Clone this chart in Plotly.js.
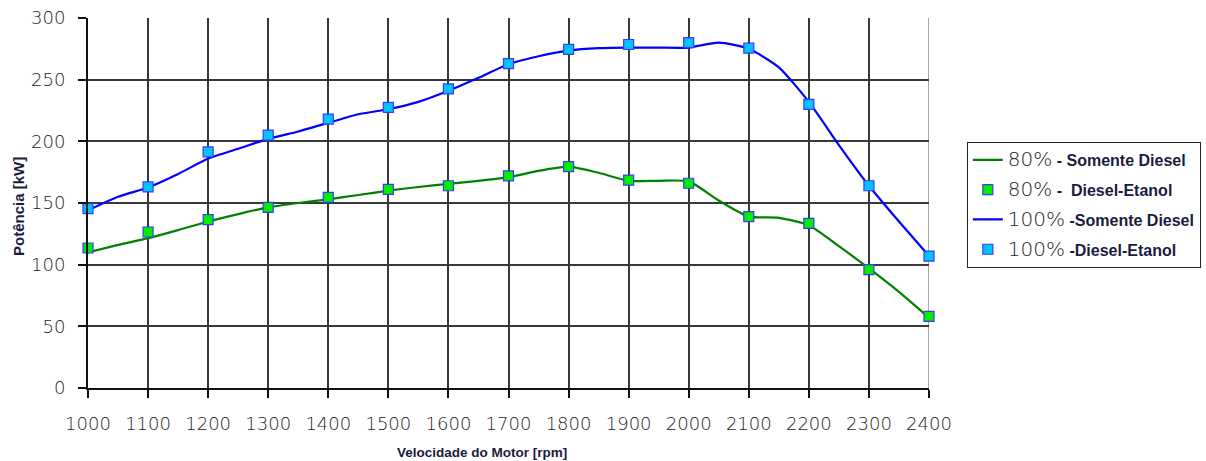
<!DOCTYPE html>
<html>
<head>
<meta charset="utf-8">
<script src="https://cdn.plot.ly/plotly-3.0.1.min.js"></script>
<style>
  html, body { margin: 0; padding: 0; background: #ffffff; }
  #chart { width: 1206px; height: 461px; }
</style>
</head>
<body>
<div id="chart"></div>
<script>
// Engine speed for the measured points (Diesel-Etanol)
const rpmPoints = [1000, 1100, 1200, 1300, 1400, 1500, 1600, 1700, 1800, 1900, 2000, 2100, 2200, 2300, 2400];
// Engine speed for the diesel-only curves
const rpmCurve = [1000, 1050, 1100, 1150, 1200, 1250, 1300, 1350, 1400, 1450, 1500, 1550, 1600, 1650, 1700,
                  1750, 1800, 1850, 1900, 1950, 2000, 2050, 2100, 2150, 2200, 2250, 2300, 2350, 2400];

// Power [kW], 80% load
const diesel80 = [110, 116, 121.5, 128, 135, 141, 146.5, 150, 153, 156.5, 160, 163, 165.5, 168, 171,
                  176, 179.5, 174.5, 168, 168, 167.5, 152, 139, 138, 132, 115, 97, 78, 57];
const etanol80 = [113.5, 126.5, 136.5, 146.5, 154.5, 161, 164, 172, 179.5, 168.5, 166, 139, 133.5, 96, 58];

// Power [kW], 100% load
const diesel100 = [144, 155, 162.5, 173.5, 186, 194, 202, 208, 215, 222, 226, 232, 241, 251.5, 262.5,
                   269, 273.5, 275.5, 276, 276, 276, 280, 275, 260, 232, 197, 164, 135, 107];
const etanol100 = [145.5, 163, 191.5, 205, 218, 227.5, 242.5, 263, 274.5, 278.5, 280, 275.5, 230, 164, 107];

const seriesNames = [
  '80% - Somente Diesel',
  '80% -  Diesel-Etanol',
  '100% -Somente Diesel',
  '100% -Diesel-Etanol'
];

// legend label: thin large percentage followed by bold description
function legendLabel(name) {
  const pct = name.slice(0, name.indexOf('%') + 1);
  const rest = name.slice(pct.length).replace(/ /g, '\u00a0');
  return '<span style="font-family:\'DejaVu Sans\';font-size:20px;font-weight:300;color:#222222">' + pct + '</span>' +
         '<span style="font-size:16px;font-weight:bold;color:#1b1b40">' + rest + '</span>';
}

const markerLine = { color: '#3a3aff', width: 1.2 };

const traces = [
  {
    x: rpmCurve, y: diesel80, name: legendLabel(seriesNames[0]), legendgroup: 'a',
    type: 'scatter', mode: 'lines', cliponaxis: false,
    line: { color: '#008000', width: 2.2, shape: 'spline', smoothing: 0.6 }
  },
  {
    x: rpmPoints, y: etanol80, name: legendLabel(seriesNames[1]), legendgroup: 'b',
    type: 'scatter', mode: 'markers', cliponaxis: false,
    marker: { symbol: 'square', size: 10, color: '#00ee00', line: markerLine }
  },
  {
    x: rpmCurve, y: diesel100, name: legendLabel(seriesNames[2]), legendgroup: 'c',
    type: 'scatter', mode: 'lines', cliponaxis: false,
    line: { color: '#0000ff', width: 2.2, shape: 'spline', smoothing: 0.6 }
  },
  {
    x: rpmPoints, y: etanol100, name: legendLabel(seriesNames[3]), legendgroup: 'd',
    type: 'scatter', mode: 'markers', cliponaxis: false,
    marker: { symbol: 'square', size: 10, color: '#00c4ff', line: markerLine }
  }
];

const tickFont = { family: 'DejaVu Sans', size: 18, color: '#222222', weight: 300 };

const layout = {
  width: 1206,
  height: 461,
  margin: { l: 88, r: 277, t: 18, b: 73, autoexpand: false },
  paper_bgcolor: '#ffffff',
  plot_bgcolor: '#ffffff',
  showlegend: true,
  xaxis: {
    range: [1000, 2400],
    tickmode: 'linear', tick0: 1000, dtick: 100,
    showgrid: true, gridcolor: '#383838', gridwidth: 2,
    zeroline: false,
    showline: true, linecolor: '#111111', linewidth: 2,
    ticks: 'outside', ticklen: 8, tickwidth: 2, tickcolor: '#111111',
    ticklabelstandoff: 10,
    tickfont: tickFont,
    automargin: false,
    fixedrange: true
  },
  yaxis: {
    range: [0, 300],
    tickmode: 'linear', tick0: 0, dtick: 50,
    showgrid: true, gridcolor: '#383838', gridwidth: 2,
    zeroline: false,
    showline: true, linecolor: '#111111', linewidth: 2,
    ticks: 'outside', ticklen: 8, tickwidth: 2, tickcolor: '#111111',
    ticklabelstandoff: 9,
    tickfont: tickFont,
    automargin: false,
    fixedrange: true
  },
  legend: {
    x: 1.045, xanchor: 'left',
    y: 0.665, yanchor: 'top',
    bgcolor: '#ffffff',
    bordercolor: '#222222', borderwidth: 1,
    font: { family: 'Liberation Sans, Arial, sans-serif', size: 16, color: '#1b1b40' },
    tracegroupgap: 6,
    itemwidth: 30
  },
  shapes: [
    // light grey frame edge on the right side of the plot area
    { type: 'line', xref: 'x', yref: 'paper', x0: 2400, x1: 2400, y0: 0, y1: 1,
      line: { color: '#a8a8a8', width: 2 }, layer: 'between' }
  ],
  annotations: [
    { text: '<b>Velocidade do Motor [rpm]</b>', xref: 'paper', yref: 'paper',
      x: (482 - 88) / 841, y: -(452 - 388) / 370, xanchor: 'center', yanchor: 'middle',
      showarrow: false,
      font: { family: 'Liberation Sans, Arial, sans-serif', size: 13.5, color: '#1b1b40' } },
    { text: '<b>Potência [kW]</b>', xref: 'paper', yref: 'paper',
      x: -(88 - 18) / 841, y: (388 - 207) / 370, xanchor: 'center', yanchor: 'middle',
      textangle: -90, showarrow: false,
      font: { family: 'Liberation Sans, Arial, sans-serif', size: 15, color: '#1b1b40' } }
  ]
};

Plotly.newPlot('chart', traces, layout, { displayModeBar: false, staticPlot: true });
</script>
</body>
</html>
